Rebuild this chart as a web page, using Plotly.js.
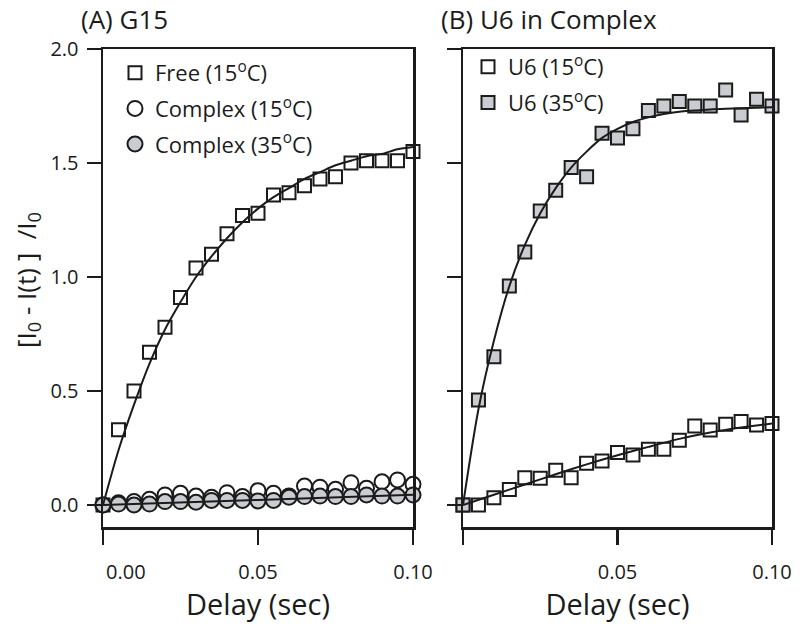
<!DOCTYPE html>
<html>
<head>
<meta charset="utf-8">
<script src="https://cdn.plot.ly/plotly-3.0.1.min.js"></script>
<style>html,body{margin:0;padding:0;background:#fff;}#chart{width:800px;height:634px;}</style>
</head>
<body>
<div id="chart"></div>
<script>
// ---- data ----
const delay = [0, 0.005, 0.01, 0.015, 0.02, 0.025, 0.03, 0.035, 0.04, 0.045, 0.05,
               0.055, 0.06, 0.065, 0.07, 0.075, 0.08, 0.085, 0.09, 0.095, 0.1];

// Panel A: G15
const freeY      = [0, 0.33, 0.50, 0.67, 0.78, 0.91, 1.04, 1.10, 1.19, 1.27, 1.28,
                    1.36, 1.37, 1.40, 1.43, 1.44, 1.50, 1.51, 1.51, 1.51, 1.55];
const complex15Y = [0, 0.010, 0.015, 0.025, 0.044, 0.051, 0.039, 0.034, 0.054, 0.037, 0.063,
                    0.051, 0.040, 0.083, 0.078, 0.069, 0.098, 0.073, 0.102, 0.110, 0.091];
const complex35Y = [0, 0.004, 0, 0.004, 0.015, 0.015, 0.012, 0.020, 0.020, 0.020, 0.018,
                    0.020, 0.034, 0.037, 0.039, 0.037, 0.037, 0.044, 0.039, 0.039, 0.044];
const freeFitY   = [0, 0.24, 0.44, 0.62, 0.77, 0.89, 1.00, 1.09, 1.17, 1.24, 1.30,
                    1.35, 1.39, 1.43, 1.46, 1.49, 1.51, 1.53, 1.54, 1.56, 1.57];
const complexFitX = [0, 0.05, 0.1];
const complexFitY = [0, 0.022, 0.045];

// Panel B: U6 in Complex
const u6_15Y    = [0, 0.0, 0.032, 0.068, 0.12, 0.117, 0.152, 0.12, 0.183, 0.193, 0.23,
                   0.219, 0.244, 0.244, 0.284, 0.346, 0.329, 0.354, 0.366, 0.351, 0.357];
const u6_35Y    = [0, 0.46, 0.65, 0.96, 1.11, 1.29, 1.38, 1.48, 1.44, 1.63, 1.61,
                   1.65, 1.73, 1.75, 1.77, 1.75, 1.75, 1.82, 1.71, 1.78, 1.75];
const u6_35FitY = [0, 0.42, 0.72, 0.96, 1.14, 1.28, 1.39, 1.48, 1.55, 1.61, 1.65,
                   1.68, 1.70, 1.715, 1.725, 1.73, 1.735, 1.738, 1.74, 1.742, 1.745];
const u6_15FitX = [0, 0.01, 0.02, 0.03, 0.04, 0.05, 0.06, 0.07, 0.08, 0.09, 0.1];
const u6_15FitY = [0, 0.045, 0.09, 0.135, 0.178, 0.218, 0.255, 0.29, 0.318, 0.34, 0.358];

const xTickValsA = [0, 0.05, 0.1];
const xTickTextA = ['\u2007\u2007\u2007\u20070.00', '0.05', '0.10'];
const xTickValsB = [0.05, 0.1];
const xTickTextB = ['0.05', '0.10'];
const xTickZeroB = [0];
const yTickVals = [0, 0.5, 1.0, 1.5, 2.0];
const yTickText = ['0.0', '0.5', '1.0', '1.5', '2.0'];

const legendA = ['Free (15<sup>o</sup>C)', 'Complex (15<sup>o</sup>C)', 'Complex (35<sup>o</sup>C)'];
const legendB = ['U6 (15<sup>o</sup>C)', 'U6 (35<sup>o</sup>C)'];

// ---- styling ----
const FONT = 'Open Sans, Noto Sans, DejaVu Sans, sans-serif';
const INK = '#1b1b1b';
const GRAY = '#c9cdd2';
const openSq = {symbol: 'square', size: 13, color: '#ffffff', line: {color: INK, width: 2}};
const graySq = {symbol: 'square', size: 13, color: GRAY, line: {color: INK, width: 2}};
const openCi = {symbol: 'circle', size: 15, color: '#ffffff', line: {color: INK, width: 2}};
const grayCi = {symbol: 'circle', size: 15, color: GRAY, line: {color: INK, width: 2}};
const fitLine = {color: INK, width: 2, shape: 'spline', smoothing: 0.8};

const data = [
  {x: delay, y: freeY, type: 'scatter', mode: 'markers', marker: openSq, name: legendA[0],
   legend: 'legend', legendgroup: 'a1', cliponaxis: false, xaxis: 'x', yaxis: 'y'},
  {x: delay, y: complex15Y, type: 'scatter', mode: 'markers', marker: openCi, name: legendA[1],
   legend: 'legend', legendgroup: 'a2', cliponaxis: false, xaxis: 'x', yaxis: 'y'},
  {x: delay, y: complex35Y, type: 'scatter', mode: 'markers', marker: grayCi, name: legendA[2],
   legend: 'legend', legendgroup: 'a3', cliponaxis: false, xaxis: 'x', yaxis: 'y'},
  {x: delay, y: freeFitY, type: 'scatter', mode: 'lines', line: fitLine, showlegend: false,
   cliponaxis: false, xaxis: 'x', yaxis: 'y'},
  {x: complexFitX, y: complexFitY, type: 'scatter', mode: 'lines', line: fitLine, showlegend: false,
   cliponaxis: false, xaxis: 'x', yaxis: 'y'},

  {x: delay, y: u6_15Y, type: 'scatter', mode: 'markers', marker: openSq, name: legendB[0],
   legend: 'legend2', legendgroup: 'b1', cliponaxis: false, xaxis: 'x2', yaxis: 'y2'},
  {x: delay, y: u6_35Y, type: 'scatter', mode: 'markers', marker: graySq, name: legendB[1],
   legend: 'legend2', legendgroup: 'b2', cliponaxis: false, xaxis: 'x2', yaxis: 'y2'},
  {x: delay, y: u6_35FitY, type: 'scatter', mode: 'lines', line: fitLine, showlegend: false,
   cliponaxis: false, xaxis: 'x2', yaxis: 'y2'},
  {x: u6_15FitX, y: u6_15FitY, type: 'scatter', mode: 'lines', line: fitLine, showlegend: false,
   cliponaxis: false, xaxis: 'x2', yaxis: 'y2'}
];

const W = 800, H = 634;
const yDom = [1 - 527 / H, 1 - 49 / H];
const axBase = {
  showline: true, linewidth: 2.5, linecolor: INK, mirror: true,
  ticks: 'outside', tickwidth: 2.5, tickcolor: INK,
  showgrid: false, zeroline: false, fixedrange: true,
  tickfont: {family: FONT, size: 20, color: INK}
};
const xTitle = {text: 'Delay (sec)', font: {family: FONT, size: 29, color: INK}, standoff: 8};

const legendBase = {
  bgcolor: 'rgba(0,0,0,0)', borderwidth: 0, traceorder: 'grouped', tracegroupgap: 4,
  font: {family: FONT, size: 22, color: INK}, xanchor: 'left', yanchor: 'top',
  itemclick: false, itemdoubleclick: false
};

const layout = {
  width: W, height: H,
  margin: {l: 0, r: 0, t: 0, b: 0},
  paper_bgcolor: '#ffffff', plot_bgcolor: '#ffffff',
  font: {family: FONT, color: INK},
  showlegend: true,
  xaxis: Object.assign({}, axBase, {
    domain: [103 / W, 413 / W], range: [0, 0.1], anchor: 'y',
    tickvals: xTickValsA, ticktext: xTickTextA, ticklen: 15, ticklabelstandoff: 10, title: xTitle
  }),
  yaxis: Object.assign({}, axBase, {
    domain: yDom, range: [-0.0965, 2.0], anchor: 'x',
    tickvals: yTickVals, ticktext: yTickText, ticklen: 14, ticklabelstandoff: 4
  }),
  xaxis2: Object.assign({}, axBase, {
    domain: [463 / W, 772 / W], range: [0, 0.1], anchor: 'y2',
    tickvals: xTickValsB, ticktext: xTickTextB, ticklen: 15, ticklabelstandoff: 10, title: xTitle,
    minor: {tickvals: xTickZeroB, ticks: 'outside', ticklen: 15, tickwidth: 2.5, tickcolor: INK, showgrid: false}
  }),
  yaxis2: Object.assign({}, axBase, {
    domain: yDom, range: [-0.0965, 2.0], anchor: 'x2',
    tickvals: yTickVals, ticktext: yTickText, ticklen: 14, showticklabels: false
  }),
  legend: Object.assign({}, legendBase, {x: 115 / W, y: 1 - 52 / H}),
  legend2: Object.assign({}, legendBase, {x: 468 / W, y: 1 - 46 / H}),
  annotations: [
    {text: '(A) G15', xref: 'paper', yref: 'paper', x: 79 / W, y: 1 - 19 / H,
     xanchor: 'left', yanchor: 'middle', showarrow: false,
     font: {family: FONT, size: 26, color: INK}},
    {text: '(B) U6 in Complex', xref: 'paper', yref: 'paper', x: 439 / W, y: 1 - 19 / H,
     xanchor: 'left', yanchor: 'middle', showarrow: false,
     font: {family: FONT, size: 26, color: INK}},
    {text: '[I<sub>0</sub> - I(t) ]  /I<sub>0</sub>', xref: 'paper', yref: 'paper',
     x: 27 / W, y: 1 - 280 / H, xanchor: 'center', yanchor: 'middle', textangle: -90,
     showarrow: false, font: {family: FONT, size: 26, color: INK}}
  ]
};

Plotly.newPlot('chart', data, layout, {staticPlot: true, displayModeBar: false});
</script>
</body>
</html>
